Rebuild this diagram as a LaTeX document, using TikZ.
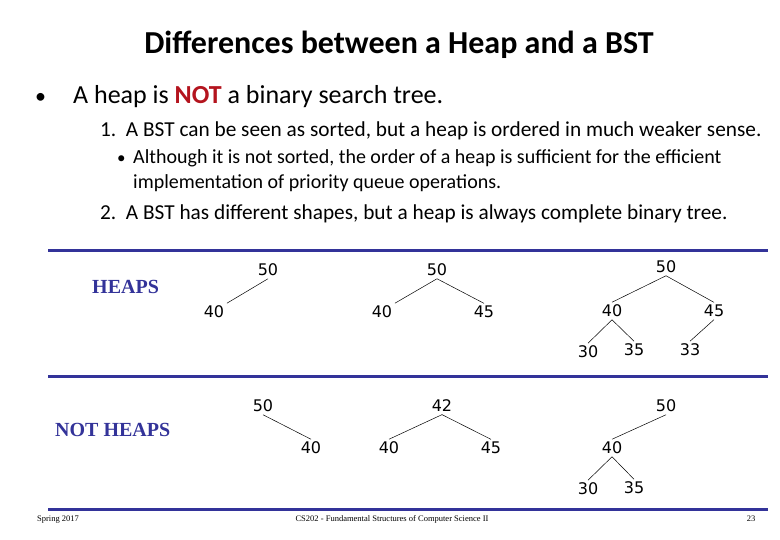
\documentclass[tikz,border=0pt]{standalone}
\usepackage{fontspec}
\setmainfont{Carlito}
\newfontfamily\numfont{DejaVu Sans}
\newfontfamily\serfont{Liberation Serif}
\definecolor{barblue}{RGB}{51,51,153}
\definecolor{notred}{RGB}{180,20,30}
\tikzset{
  txt/.style={anchor=base west, inner sep=0pt},
  num/.style={inner sep=2.5pt, font=\numfont\fontsize{16}{18}\selectfont},
  heaplabel/.style={anchor=base west, inner sep=0pt, text=barblue, font=\serfont\bfseries\fontsize{20}{22}\selectfont},
  foot/.style={anchor=base, inner sep=0pt, font=\serfont\fontsize{8.5}{10}\selectfont},
  bar/.style={barblue, line width=3pt},
  link/.style={line width=0.5pt}
}
\begin{document}
\begin{tikzpicture}[x=1pt, y=-1pt]
			\useasboundingbox (0,0) rectangle (780,540);

			% Title and text
			\node[anchor=base, inner sep=0pt, font=\bfseries\fontsize{32}{38}\selectfont] (title) at (399,54) {Differences between a Heap and a BST};
			\node[txt, font=\fontsize{22}{26}\selectfont] (b1) at (35,104) {\textbullet};
			\node[txt, font=\fontsize{26}{30}\selectfont] (t1) at (73,104) {A heap is \textcolor{notred}{\textbf{NOT}} a binary search tree.};
			\node[txt, font=\fontsize{21.3}{25}\selectfont] (t2) at (100,137) {1.\ \ A BST can be seen as sorted, but a heap is ordered in much weaker sense.};
			\node[txt, font=\fontsize{17}{20}\selectfont] (b2) at (117,164) {\textbullet};
			\node[txt, font=\fontsize{20}{24}\selectfont] (t3) at (133,164) {Although it is not sorted, the order of a heap is sufficient for the efficient};
			\node[txt, font=\fontsize{20}{24}\selectfont] (t4) at (133,189) {implementation of priority queue operations.};
			\node[txt, font=\fontsize{21.3}{25}\selectfont] (t5) at (100,220) {2.\ \ A BST has different shapes, but a heap is always complete binary tree.};

			% Blue bars
			\draw[bar] (48,251) -- (768,251);
			\draw[bar] (48,377) -- (768,377);
			\draw[bar] (48,509) -- (768,509);

			% Labels
			\node[heaplabel] (heaps) at (92,294) {HEAPS};
			\node[heaplabel] (notheaps) at (55,436) {NOT HEAPS};

			% Heaps
			\node[num] (a1) at (268,270) {50};
			\node[num] (a2) at (214,312) {40};
			\draw[link] (a1.south) -- (a2.north east);

			\node[num] (b1r) at (437,270) {50};
			\node[num] (b2l) at (382,312) {40};
			\node[num] (b2r) at (484,312) {45};
			\draw[link] (b1r.south) -- (b2l.north east);
			\draw[link] (b1r.south) -- (b2r.north);

			\node[num] (c1) at (666,267) {50};
			\node[num] (c2) at (612,311) {40};
			\node[num] (c3) at (714,311) {45};
			\node[num] (c4) at (588,352) {30};
			\node[num] (c5) at (634,350) {35};
			\node[num] (c6) at (690,350) {33};
			\draw[link] (c1.south) -- (c2.north);
			\draw[link] (c1.south) -- (c3.north);
			\draw[link] (c2.south) -- (c4.north);
			\draw[link] (c2.south) -- (c5.north);
			\draw[link] (c3.south) -- (c6.north);

			% Not heaps
			\node[num] (d1) at (263,406) {50};
			\node[num] (d2) at (311,448) {40};
			\draw[link] (d1.south) -- (d2.north);

			\node[num] (e1) at (442,406) {42};
			\node[num] (e2) at (389,448) {40};
			\node[num] (e3) at (491,448) {45};
			\draw[link] (e1.south) -- (e2.north);
			\draw[link] (e1.south) -- (e3.north);

			\node[num] (f1) at (666,406) {50};
			\node[num] (f2) at (612,448) {40};
			\node[num] (f3) at (588,489) {30};
			\node[num] (f4) at (634,488) {35};
			\draw[link] (f1.south) -- (f2.north);
			\draw[link] (f2.south) -- (f3.north);
			\draw[link] (f2.south) -- (f4.north);

			% Footer
			\node[foot] (spring) at (58,521) {Spring 2017};
			\node[foot] (course) at (392,521) {CS202 - Fundamental Structures of Computer Science II};
			\node[foot] (page) at (751,521) {23};
		\end{tikzpicture}
\end{document}
